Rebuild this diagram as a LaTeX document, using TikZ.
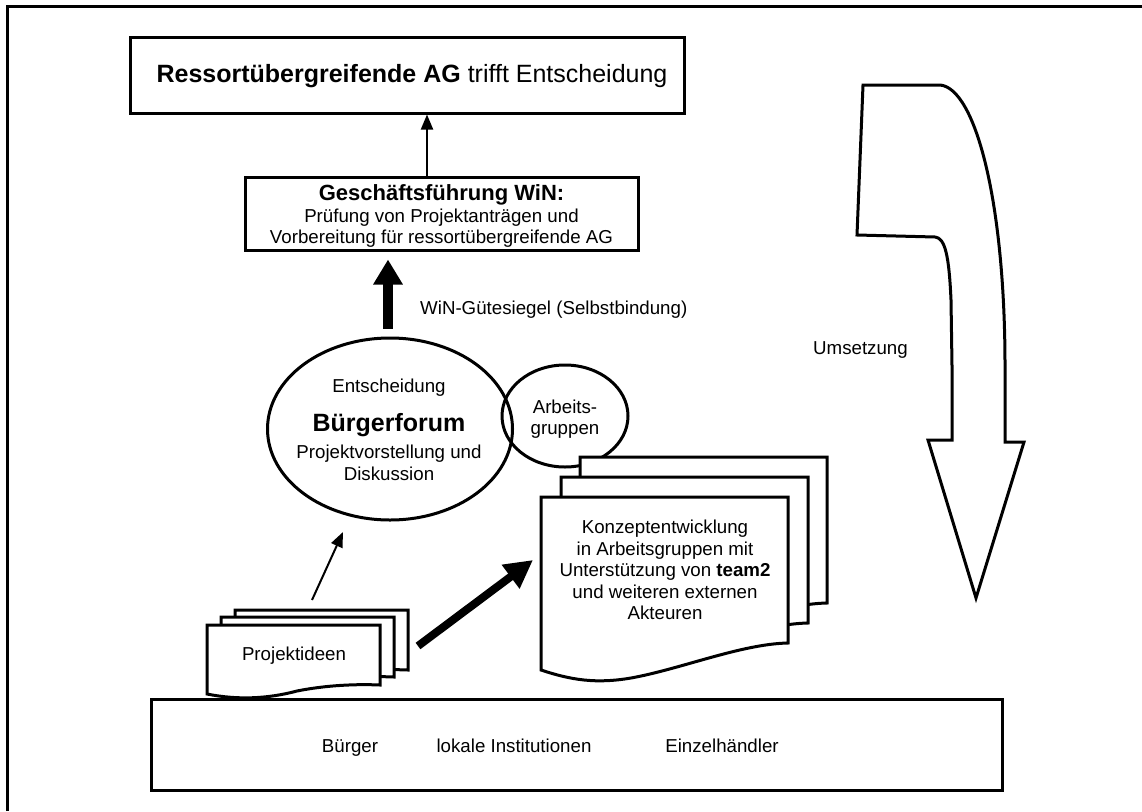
\documentclass[tikz,border=0pt]{standalone}
\usepackage{fontspec}
\setmainfont{Liberation Sans}
\usetikzlibrary{arrows.meta,shapes.geometric,calc}
\begin{document}
\begin{tikzpicture}[x=1pt,y=-1pt,
  txt/.style={font=\fontsize{18.7pt}{21.5pt}\selectfont, align=center, inner sep=0pt},
  box/.style={draw, line width=3pt, fill=white, inner sep=0pt},
  oval/.style={draw, ellipse, line width=3pt, inner sep=0pt},
  docline/.style={draw, line width=3pt, fill=white, line join=miter},
  thinarrow/.style={line width=2pt, -{Triangle[length=15pt,width=12pt]}},
  fatarrow/.style={line width=10pt, -{Triangle[length=25pt,width=28pt]}},
  diagarrow/.style={line width=8pt, -{Triangle[length=28pt,width=28pt]}},
  kdoc/.pic={\path[docline] (0,0) -- (247,0) -- (247,146) .. controls (200,147) and (140,172) .. (90,181) .. controls (55,187) and (30,183) .. (0,173) -- cycle;},
  pdoc/.pic={\path[docline] (0,0) -- (173,0) -- (173,60) .. controls (150,59) and (120,60) .. (90,66) .. controls (60,74) and (30,75) .. (0,69) -- cycle;}
]
\useasboundingbox (0,0) rectangle (1142,811);
% frame
\draw[line width=3pt] (7,811) -- (7,6) -- (1142,6);

% top box
\node[box, minimum width=554pt, minimum height=76pt] (ag) at (407,75) {};
\node[txt, font=\fontsize{25pt}{29pt}\selectfont] (agt) at (412,76) {\textbf{Ressortübergreifende AG} trifft Entscheidung};

% Geschaeftsfuehrung box
\node[box, minimum width=393pt, minimum height=73pt] (gf) at (441.5,213.5) {};
\node[txt, font=\fontsize{22pt}{26pt}\selectfont\bfseries] (gft) at (441.5,195) {Geschäftsführung WiN:};
\node[txt] (gfb) at (441.5,228) {Prüfung von Projektanträgen und\\Vorbereitung für ressortübergreifende AG};

\coordinate (a1) at (427,0);
\draw[thinarrow] (gf.north -| a1) -- (ag.south -| a1);

% Buergerforum
\node[oval, minimum width=245pt, minimum height=182pt] (bf) at (390,429) {};
\node[txt] (bf1) at (389,388) {Entscheidung};
\node[txt, font=\fontsize{25pt}{29pt}\selectfont\bfseries] (bf2) at (389,425) {Bürgerforum};
\node[txt] (bf3) at (389,463) {Projektvorstellung und\\Diskussion};

\coordinate (a2) at (388,0);
\draw[fatarrow] ([yshift=8pt]bf.north -| a2) -- ([yshift=-8pt]gf.south -| a2);
\node[txt, anchor=west] (siegel) at (420,310) {WiN-Gütesiegel (Selbstbindung)};

% Arbeitsgruppen circle
\node[oval, minimum width=126pt, minimum height=102pt] (arb) at (565,416) {};
\node[txt] (arbt) at (565,419) {Arbeits-\\gruppen};

% Konzept document stack
\pic (k3) at (580,457) {kdoc};
\pic (k2) at (561,477) {kdoc};
\pic (k1) at (541,497) {kdoc};
\node[txt] (kt) at (665,570) {Konzeptentwicklung\\in Arbeitsgruppen mit\\Unterstützung von \textbf{team2}\\und weiteren externen\\Akteuren};

% Projektideen document stack
\pic (p3) at (235,610) {pdoc};
\pic (p2) at (221,617) {pdoc};
\pic (p1) at (207,625) {pdoc};
\node[txt] (pt) at (294,656) {Projektideen};

\coordinate (t1) at (312,600);
\coordinate (t2) at (343,532);
\draw[thinarrow] (t1) -- (t2);
\coordinate (d1) at (418,646);
\coordinate (d2) at (533,560);
\draw[diagarrow] (d1) -- (d2);

% big curved arrow
\draw[line width=3pt, line join=miter, fill=white] (863,85) -- (940,85) .. controls (975,88) and (1005,200) .. (1005,366) -- (1005,442) -- (1024,442) -- (976,598) -- (928,440) -- (952,440) -- (952,366) -- (951,300) .. controls (949,255) and (945,238) .. (935,237) -- (857,235) -- cycle;
\node[txt, anchor=west] (ums) at (813,350) {Umsetzung};

% base box
\node[box, minimum width=851pt, minimum height=91pt] (base) at (576.5,744.5) {};
\node[txt, anchor=base] (b1) at (350,752) {Bürger};
\node[txt, anchor=base] (b2) at (514,752) {lokale Institutionen};
\node[txt, anchor=base] (b3) at (722,752) {Einzelhändler};
\end{tikzpicture}
\end{document}
